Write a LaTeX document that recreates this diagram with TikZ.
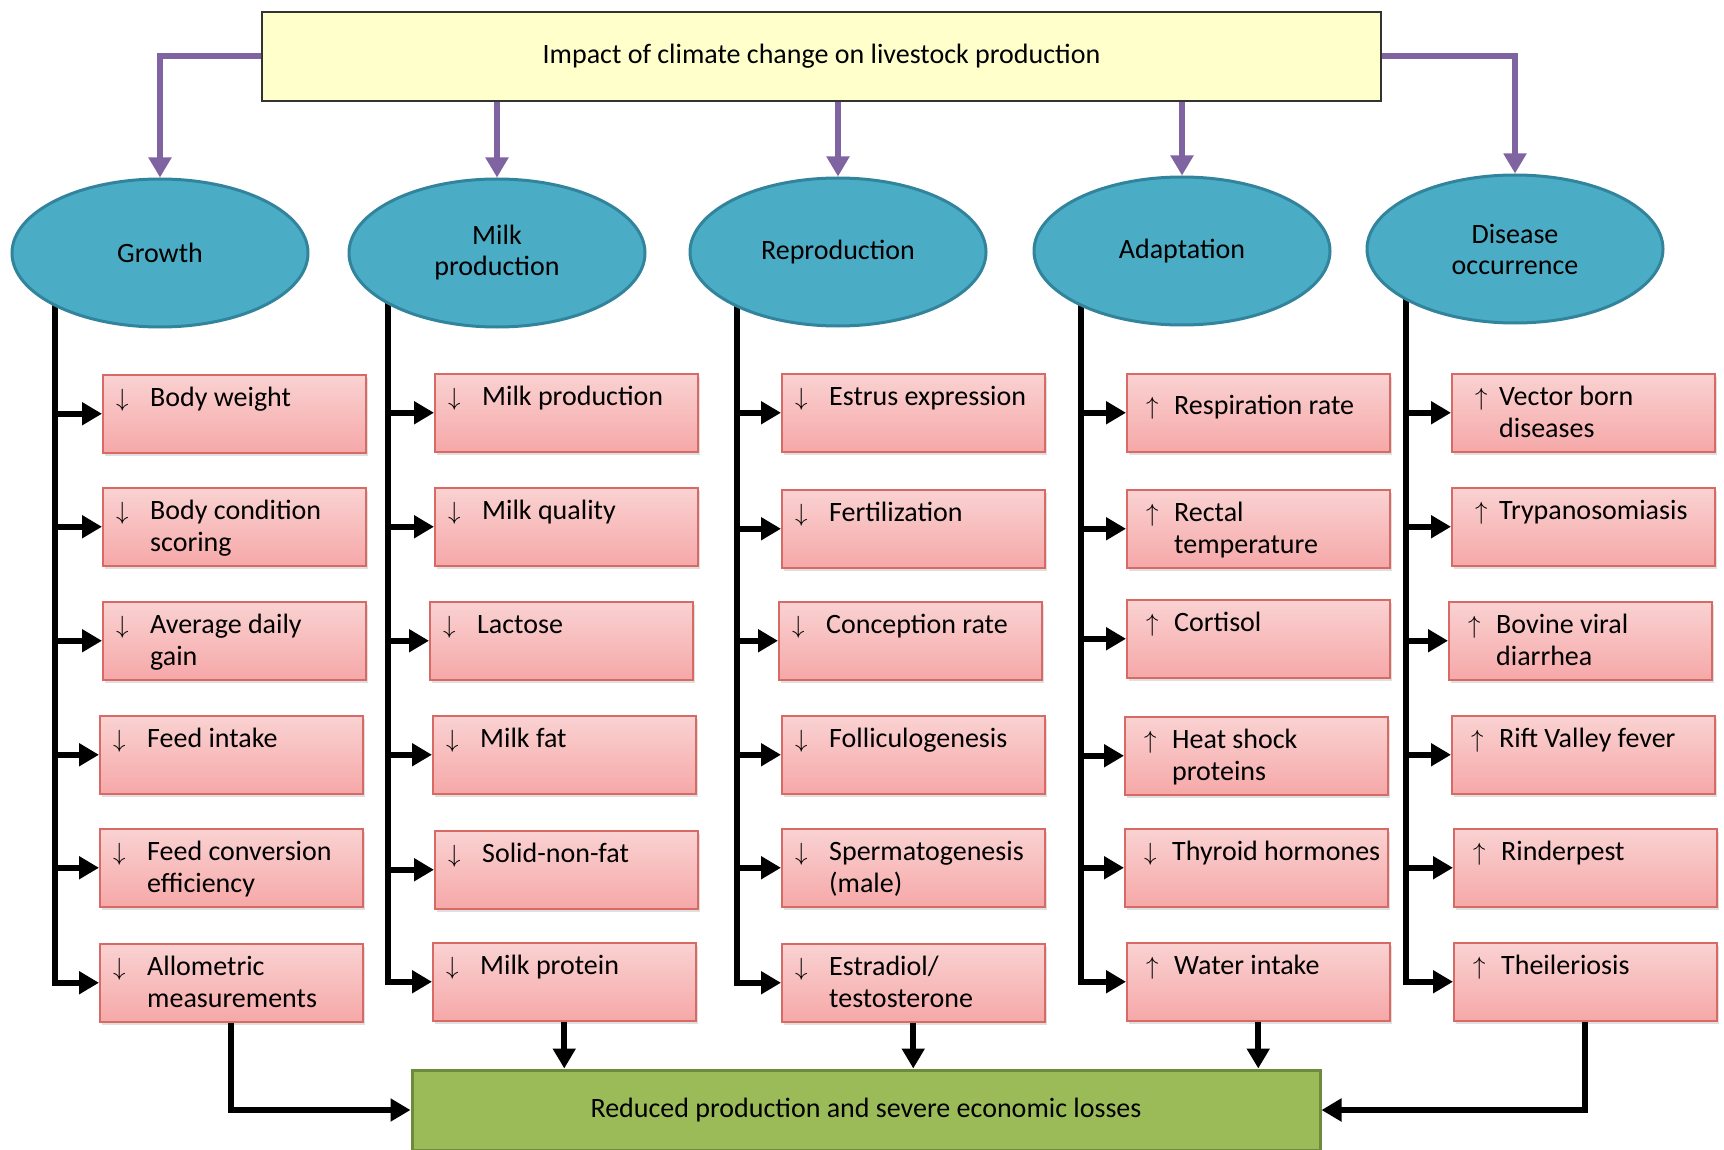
\documentclass[tikz,border=0pt]{standalone}
\usepackage{fontspec}
\setmainfont{Carlito}
\usetikzlibrary{arrows.meta,shadows,backgrounds,shapes.geometric}
\definecolor{topfill}{HTML}{FFFFCC}
\definecolor{purp}{HTML}{8064A2}
\definecolor{ellfill}{HTML}{4BACC6}
\definecolor{elldraw}{HTML}{31849B}
\definecolor{pinktop}{HTML}{FAD2D2}
\definecolor{pinkbot}{HTML}{F6A8A8}
\definecolor{pinkdraw}{HTML}{D86A66}
\definecolor{grfill}{HTML}{9BBB59}
\definecolor{grdraw}{HTML}{6E8B3D}
\newcommand\arrdn{$\downarrow$}
\newcommand\arrup{$\uparrow$}
\newcommand\pinkbox[7][32]{%
  \node[pbox] (#2) at (#3,#4) {};
  \node[ptext] (#2a) at ([xshift=#5pt,yshift=-#1pt]#2.north west) {#6};
  \node[ptext] (#2t) at ([xshift=48pt,yshift=-#1pt]#2.north west) {\begin{tabular}[t]{@{}l@{}}#7\end{tabular}};
}
\begin{document}
\begin{tikzpicture}[x=1pt,y=-1pt,
  pbox/.style={rectangle, anchor=north west, minimum width=263pt, minimum height=78pt, inner sep=0pt,
    draw=pinkdraw, line width=1.5pt, top color=pinktop, bottom color=pinkbot,
    drop shadow={shadow xshift=2pt, shadow yshift=-3pt, opacity=0.25}},
  ptext/.style={anchor=base west, inner sep=0pt, font=\fontsize{28}{32}\selectfont},
  ell/.style={ellipse, minimum width=296pt, minimum height=148pt, inner sep=0pt, fill=ellfill,
    draw=elldraw, line width=3pt, align=center, font=\fontsize{28}{31}\selectfont},
  blk/.style={line width=6pt, -{Triangle[length=20pt,width=22pt]}},
  pur/.style={line width=6pt, draw=purp, -{Triangle[length=20pt,width=22pt]}}]
\useasboundingbox (0,0) rectangle (1724,1150);

\node[rectangle, minimum width=1119pt, minimum height=89pt, inner sep=0pt, fill=topfill,
  draw=black!80, line width=1.5pt, font=\fontsize{28}{32}\selectfont] (top) at (821.5,56.5)
  {Impact of climate change on livestock production};

\node[ell] (g) at (160,253) {Growth};
\node[ell] (m) at (497,253) {Milk\\production};
\node[ell] (r) at (838,252) {Reproduction};
\node[ell] (a) at (1182,251) {Adaptation};
\node[ell] (d) at (1515,249) {Disease\\occurrence};

\draw[pur] (top.west) -| (g.north);
\draw[pur] (top.south -| m.north) -- (m.north);
\draw[pur] (top.south -| r.north) -- (r.north);
\draw[pur] (top.south -| a.north) -- (a.north);
\draw[pur] (top.east) -| (d.north);

% column 1
\pinkbox{b11}{102}{374}{14}{\arrdn}{Body weight}
\pinkbox{b12}{102}{487}{14}{\arrdn}{Body condition\\scoring}
\pinkbox{b13}{102}{601}{14}{\arrdn}{Average daily\\gain}
\pinkbox{b14}{99}{715}{14}{\arrdn}{Feed intake}
\pinkbox{b15}{99}{828}{14}{\arrdn}{Feed conversion\\efficiency}
\pinkbox{b16}{99}{943}{14}{\arrdn}{Allometric\\measurements}
% column 2
\pinkbox{b21}{434}{373}{14}{\arrdn}{Milk production}
\pinkbox{b22}{434}{487}{14}{\arrdn}{Milk quality}
\pinkbox{b23}{429}{601}{14}{\arrdn}{Lactose}
\pinkbox{b24}{432}{715}{14}{\arrdn}{Milk fat}
\pinkbox{b25}{434}{830}{14}{\arrdn}{Solid-non-fat}
\pinkbox{b26}{432}{942}{14}{\arrdn}{Milk protein}
% column 3
\pinkbox{b31}{781}{373}{14}{\arrdn}{Estrus expression}
\pinkbox{b32}{781}{489}{14}{\arrdn}{Fertilization}
\pinkbox{b33}{778}{601}{14}{\arrdn}{Conception rate}
\pinkbox{b34}{781}{715}{14}{\arrdn}{Folliculogenesis}
\pinkbox{b35}{781}{828}{14}{\arrdn}{Spermatogenesis\\(male)}
\pinkbox{b36}{781}{943}{14}{\arrdn}{Estradiol/\\testosterone}
% column 4
\pinkbox[41]{b41}{1126}{373}{20}{\arrup}{Respiration rate}
\pinkbox{b42}{1126}{489}{20}{\arrup}{Rectal\\temperature}
\pinkbox{b43}{1126}{599}{20}{\arrup}{Cortisol}
\pinkbox{b44}{1124}{716}{20}{\arrup}{Heat shock\\proteins}
\pinkbox{b45}{1124}{828}{20}{\arrdn}{Thyroid hormones}
\pinkbox{b46}{1126}{942}{20}{\arrup}{Water intake}
% column 5
\pinkbox{b51}{1451}{373}{24}{\arrup}{Vector born\\diseases}
\pinkbox{b52}{1451}{487}{24}{\arrup}{Trypanosomiasis}
\pinkbox{b53}{1448}{601}{20}{\arrup}{Bovine viral\\diarrhea}
\pinkbox{b54}{1451}{715}{20}{\arrup}{Rift Valley fever}
\pinkbox{b55}{1453}{828}{20}{\arrup}{Rinderpest}
\pinkbox{b56}{1453}{942}{20}{\arrup}{Theileriosis}

\node[rectangle, minimum width=908pt, minimum height=80pt, inner sep=0pt, fill=grfill,
  draw=grdraw, line width=3pt, font=\fontsize{28}{32}\selectfont] (bot) at (866,1110)
  {Reduced production and severe economic losses};

\coordinate (t1) at (55,290);
\coordinate (t2) at (388,290);
\coordinate (t3) at (737,290);
\coordinate (t4) at (1081,290);
\coordinate (t5) at (1406,290);

\begin{pgfonlayer}{background}
\foreach \c in {1,...,5}{
  \draw[blk] (t\c) |- (b\c6.west);
  \foreach \r in {1,...,5}{
    \draw[blk] (t\c |- b\c\r.west) -- (b\c\r.west);
  }
}
\end{pgfonlayer}

\draw[blk] (b16.south) |- (bot.west);
\draw[blk] (b26.south) -- (b26.south |- bot.north);
\draw[blk] (b36.south) -- (b36.south |- bot.north);
\draw[blk] (b46.south) -- (b46.south |- bot.north);
\draw[blk] (b56.south) |- (bot.east);
\end{tikzpicture}
\end{document}
